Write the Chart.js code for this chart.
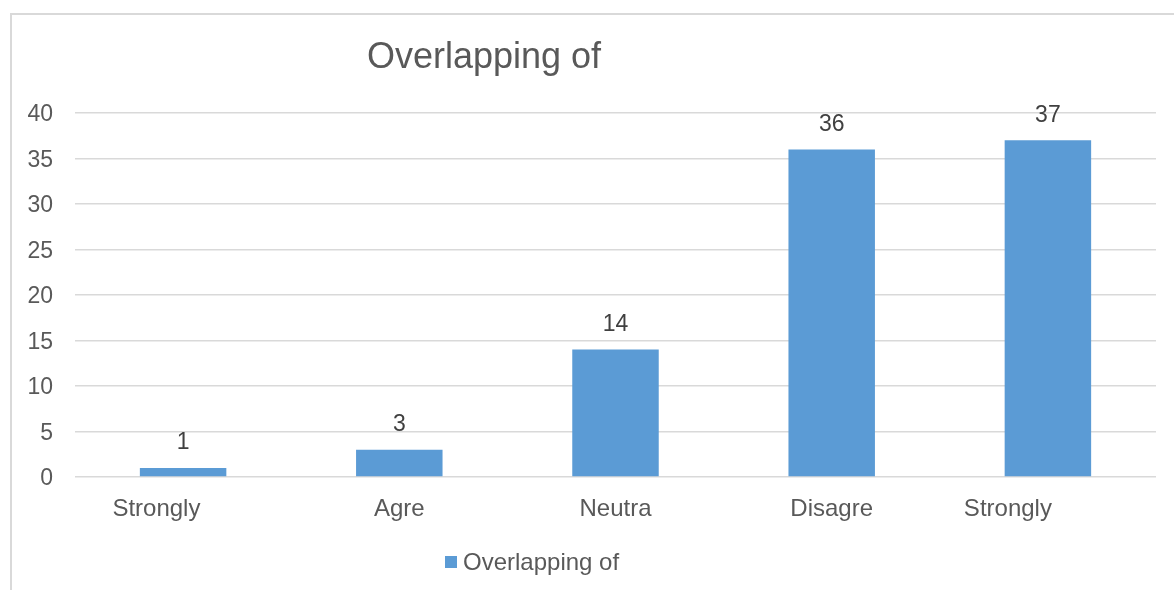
<!DOCTYPE html>
<html>
<head>
<meta charset="utf-8">
<script src="https://cdn.jsdelivr.net/npm/chart.js@4"></script>
<style>
	html, body { margin: 0; padding: 0; background: #fff; }
	.frame {
		position: absolute; left: 10px; top: 13px; right: -10px; bottom: -10px;
		border-left: 2px solid #d9d9d9; border-top: 2px solid #d9d9d9;
	}
	.barChart { position: relative; width: 1174px; height: 590px; }
</style>
</head>
<body>
<div class="frame"></div>
<div class="barChart">
	<canvas id="bar-chart"></canvas>
</div>
<script>
const chartTitle = 'Overlapping of';
const seriesName = 'Overlapping of';
const categories = ['Strongly', 'Agre', 'Neutra', 'Disagre', 'Strongly'];
const values = [1, 3, 14, 36, 37];
const yTicks = [0, 5, 10, 15, 20, 25, 30, 35, 40];

const FONT = '"Liberation Sans", Arial, sans-serif';
const GREY = '#595959';
const BLUE = '#5b9bd5';

// excel leaves some labels off-centre (wrapped text), fake it with trailing spaces
const labelPad = [8, 0, 0, 0, 12];

// title, legend and value labels drawn by hand so they sit where excel put them
const decorations = {
	id: 'decorations',
	afterDatasetsDraw(chart) {
		const ctx = chart.ctx;
		ctx.save();
		ctx.fillStyle = '#404040';
		ctx.font = '23px ' + FONT;
		ctx.textAlign = 'center';
		ctx.textBaseline = 'middle';
		const meta = chart.getDatasetMeta(0);
		meta.data.forEach((bar, i) => {
			ctx.fillText(String(values[i]), bar.x, bar.y - 25);
		});
		ctx.restore();
	},
	afterDraw(chart) {
		const ctx = chart.ctx;
		ctx.save();
		ctx.fillStyle = GREY;
		ctx.textBaseline = 'middle';
		ctx.textAlign = 'center';
		ctx.font = '36px ' + FONT;
		ctx.fillText(chartTitle, 484, 58);

		ctx.fillStyle = BLUE;
		ctx.fillRect(445, 556, 12, 12);
		ctx.fillStyle = GREY;
		ctx.textAlign = 'left';
		ctx.font = '24px ' + FONT;
		ctx.fillText(seriesName, 463, 563);
		ctx.restore();
	},
};

const ctx = document.getElementById('bar-chart').getContext('2d');
new Chart(ctx, {
	type: 'bar',
	data: {
		labels: categories,
		datasets: [
			{
				label: seriesName,
				data: values,
				backgroundColor: BLUE,
				borderWidth: 0,
				barPercentage: 0.4,
				categoryPercentage: 1,
			},
		],
	},
	options: {
		responsive: true,
		maintainAspectRatio: false,
		animation: false,
		layout: { padding: { top: 113, right: 18, left: 0, bottom: 0 } },
		plugins: {
			legend: { display: false },
			title: { display: false },
			tooltip: { enabled: false },
		},
		scales: {
			x: {
				grid: { display: false, drawTicks: false },
				border: { display: false },
				afterFit(scale) { scale.height = 113; },
				ticks: {
					color: GREY,
					padding: 18,
					maxRotation: 0,
					font: { family: FONT, size: 24 },
					callback(value, i) {
						return categories[i] + '\u00a0'.repeat(labelPad[i]);
					},
				},
			},
			y: {
				min: yTicks[0],
				max: yTicks[yTicks.length - 1],
				afterFit(scale) { scale.width = 75; },
				afterBuildTicks(scale) {
					scale.ticks = yTicks.map(v => ({ value: v }));
				},
				grid: { color: '#d9d9d9', lineWidth: 1.5, drawTicks: false },
				border: { display: false },
				ticks: {
					color: GREY,
					padding: 22,
					labelOffset: 2,
					font: { family: FONT, size: 23 },
				},
			},
		},
	},
	plugins: [decorations],
});
</script>
</body>
</html>
